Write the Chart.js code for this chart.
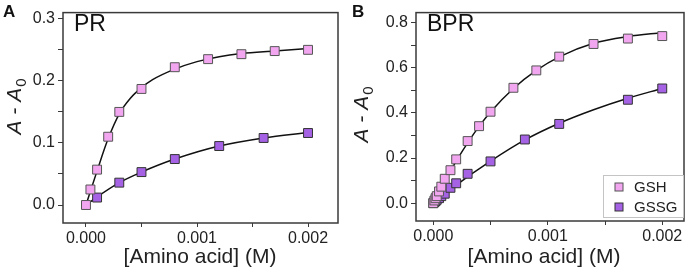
<!DOCTYPE html>
<html>
<head>
<meta charset="utf-8">
<script src="https://cdn.jsdelivr.net/npm/chart.js@4"></script>
<style>
  html, body { margin: 0; padding: 0; background: #fff; }
  #wrap { position: relative; width: 692px; height: 273px; }
  canvas { position: absolute; top: 0; }
  #cA { left: 0; }
  #cB { left: 346px; }
</style>
</head>
<body>
<div id="wrap">
  <canvas id="cA" width="346" height="273"></canvas>
  <canvas id="cB" width="346" height="273"></canvas>
</div>
<script>
// ---- data ----
// Panel A (PR)
const xA_gsh  = [0, 0.00004, 0.0001, 0.0002, 0.0003, 0.0005, 0.0008, 0.0011, 0.0014, 0.0017, 0.002];
const yA_gsh  = [0, 0.025, 0.057, 0.110, 0.150, 0.187, 0.222, 0.235, 0.243, 0.248, 0.250];
const xA_gssg = [0.0001, 0.0003, 0.0005, 0.0008, 0.0012, 0.0016, 0.002];
const yA_gssg = [0.012, 0.036, 0.053, 0.074, 0.095, 0.108, 0.116];
// fitted curves
const xA_fit1 = [0, 0.0001, 0.0002, 0.0003, 0.0004, 0.0005, 0.0006, 0.0008, 0.001, 0.0012, 0.0014, 0.0017, 0.002];
const yA_fit1 = [0, 0.055, 0.107, 0.147, 0.172, 0.189, 0.202, 0.219, 0.231, 0.239, 0.244, 0.248, 0.252];
const xA_fit2 = [0, 0.0001, 0.0003, 0.0005, 0.0008, 0.0012, 0.0016, 0.002];
const yA_fit2 = [0, 0.013, 0.036, 0.053, 0.074, 0.095, 0.108, 0.117];

// Panel B (BPR)
const xB_gsh  = [0, 0.00001, 0.00002, 0.00003, 0.00005, 0.00007, 0.0001, 0.00015, 0.0002, 0.0003, 0.0004, 0.0005, 0.0007, 0.0009, 0.0011, 0.0014, 0.0017, 0.002];
const yB_gsh  = [0, 0.012, 0.022, 0.031, 0.052, 0.073, 0.108, 0.146, 0.194, 0.275, 0.341, 0.405, 0.511, 0.588, 0.649, 0.705, 0.729, 0.740];
const xB_gssg = [0, 0.00001, 0.00002, 0.00003, 0.00005, 0.00007, 0.0001, 0.00015, 0.0002, 0.0003, 0.0005, 0.0008, 0.0011, 0.0017, 0.002];
const yB_gssg = [0, 0.005, 0.009, 0.015, 0.022, 0.031, 0.042, 0.068, 0.088, 0.130, 0.185, 0.282, 0.351, 0.458, 0.508];
const xB_fit1 = [0, 0.0001, 0.0002, 0.0003, 0.0004, 0.0005, 0.0007, 0.0009, 0.0011, 0.0014, 0.0017, 0.002];
const yB_fit1 = [0, 0.097, 0.186, 0.267, 0.340, 0.404, 0.508, 0.588, 0.648, 0.708, 0.738, 0.755];
const xB_fit2 = [0, 0.0002, 0.0005, 0.0008, 0.0011, 0.0014, 0.0017, 0.002];
const yB_fit2 = [0, 0.080, 0.186, 0.280, 0.354, 0.414, 0.465, 0.508];

// ticks
const xTicks = [0, 0.0005, 0.001, 0.0015, 0.002];
const xLabels = [0, 0.001, 0.002];
const yTicksA = [0, 0.05, 0.1, 0.15, 0.2, 0.25, 0.3];
const yLabelsA = [0, 0.1, 0.2, 0.3];
const yTicksB = [0, 0.1, 0.2, 0.3, 0.4, 0.5, 0.6, 0.7, 0.8];
const yLabelsB = [0, 0.2, 0.4, 0.6, 0.8];

const seriesNames = ['GSH', 'GSSG'];

const PINK = '#f2a6f0';
const PURPLE = '#a562e4';
const FONT = "'Liberation Sans', Arial, sans-serif";

const pts = (xs, ys) => xs.map((x,i)=>({x, y: ys[i]}));
const has = (arr, v) => arr.some(a => Math.abs(a - v) < 1e-9);

function fitSet(xs, ys){
  return { data: pts(xs, ys), showLine: true, pointRadius: 0, borderColor: '#111',
           borderWidth: 1.5, cubicInterpolationMode: 'monotone', order: 2 };
}
function markSet(label, xs, ys, fill, edge){
  return { label, data: pts(xs, ys), pointStyle: 'rect', pointRadius: 6.3,
           backgroundColor: fill, borderColor: edge, borderWidth: 1, order: 1 };
}

// frame, panel letter, inset title, axis titles, legend
const decor = {
  id: 'decor',
  afterDatasetsDraw(chart, args, o){
    const {ctx, chartArea: a} = chart;
    ctx.save();
    ctx.strokeStyle = '#3a3a3a';
    ctx.lineWidth = 1.5;
    ctx.strokeRect(a.left, a.top, a.right - a.left, a.bottom - a.top);

    ctx.fillStyle = '#111';
    ctx.font = `bold 17px ${FONT}`;
    ctx.textBaseline = 'alphabetic';
    ctx.textAlign = 'left';
    ctx.fillText(o.letter, o.letterX, 17);

    ctx.font = `23px ${FONT}`;
    ctx.fillText(o.name, a.left + 11, 31);

    // x title
    ctx.font = `21px ${FONT}`;
    ctx.textAlign = 'center';
    ctx.fillStyle = '#222';
    ctx.fillText('[Amino acid] (M)', o.xTitleX, 263);

    // y title, rotated, with subscript
    ctx.translate(o.yTitleX, o.yTitleY);
    ctx.rotate(-Math.PI/2);
    ctx.font = `italic 21px ${FONT}`;
    const main = 'A - A';
    const w1 = ctx.measureText(main).width;
    ctx.font = `15px ${FONT}`;
    const w2 = ctx.measureText('0').width;
    const start = -(w1 + w2) / 2;
    ctx.textAlign = 'left';
    ctx.font = `italic 21px ${FONT}`;
    ctx.fillText(main, start, 0);
    ctx.font = `15px ${FONT}`;
    ctx.fillText('0', start + w1 + 1, 5);
    ctx.restore();

    if (o.legend){
      ctx.save();
      const lx = 257, ly = 175, lw = 80, lh = 42;
      ctx.fillStyle = '#fff';
      ctx.fillRect(lx, ly, lw, lh);
      ctx.strokeStyle = '#c4c4c4';
      ctx.lineWidth = 1;
      ctx.strokeRect(lx + 0.5, ly + 0.5, lw, lh);
      const fills = [PINK, PURPLE];
      const edges = ['#555', '#333'];
      ctx.font = `15px ${FONT}`;
      ctx.textBaseline = 'middle';
      ctx.textAlign = 'left';
      seriesNames.forEach((n, i) => {
        const cy = 187 + i * 20;
        ctx.fillStyle = fills[i];
        ctx.fillRect(269, cy - 4, 8, 8);
        ctx.strokeStyle = edges[i];
        ctx.strokeRect(269, cy - 4, 8, 8);
        ctx.fillStyle = '#222';
        ctx.fillText(n, 288, cy + 1);
      });
      ctx.restore();
    }
  }
};

function makeChart(id, sets, xr, yr, yTicks, yLabels, yDigits, yWidth, xHeight, deco){
  return new Chart(document.getElementById(id), {
    type: 'scatter',
    data: { datasets: sets },
    options: {
      responsive: false,
      animation: false,
      devicePixelRatio: 1,
      layout: { padding: { left: 0, right: 8, top: 3, bottom: 0 } },
      plugins: { legend: { display: false }, tooltip: { enabled: false }, decor: deco },
      scales: {
        x: {
          type: 'linear', min: xr[0], max: xr[1],
          afterBuildTicks: s => { s.ticks = xTicks.map(v => ({value: v})); },
          afterFit: s => { s.height = xHeight; },
          ticks: { font: { family: FONT, size: 16 }, color: '#222', padding: 2, maxRotation: 0,
                   autoSkip: false, callback: v => has(xLabels, v) ? v.toFixed(3) : '' },
          grid: { drawOnChartArea: false, drawTicks: true, tickLength: 4, color: '#3a3a3a', lineWidth: 1 },
          border: { display: false }
        },
        y: {
          type: 'linear', min: yr[0], max: yr[1],
          afterBuildTicks: s => { s.ticks = yTicks.map(v => ({value: v})); },
          afterFit: s => { s.width = yWidth; },
          ticks: { font: { family: FONT, size: 16 }, color: '#222', padding: 3,
                   autoSkip: false, callback: v => has(yLabels, v) ? v.toFixed(yDigits) : '' },
          grid: { drawOnChartArea: false, drawTicks: true, tickLength: 5, color: '#3a3a3a', lineWidth: 1 },
          border: { display: false }
        }
      }
    },
    plugins: [decor]
  });
}

makeChart('cA', [
    fitSet(xA_fit1, yA_fit1),
    fitSet(xA_fit2, yA_fit2),
    markSet(seriesNames[0], xA_gsh, yA_gsh, PINK, '#555'),
    markSet(seriesNames[1], xA_gssg, yA_gssg, PURPLE, '#333')
  ],
  [-0.000207, 0.00227], [-0.029, 0.31], yTicksA, yLabelsA, 1, 63, 50,
  { letter: 'A', letterX: 3, name: 'PR', xTitleX: 200, yTitleX: 21, yTitleY: 107, legend: false });

makeChart('cB', [
    fitSet(xB_fit1, yB_fit1),
    fitSet(xB_fit2, yB_fit2),
    markSet(seriesNames[0], xB_gsh, yB_gsh, PINK, '#555'),
    markSet(seriesNames[1], xB_gssg, yB_gssg, PURPLE, '#333')
  ],
  [-0.000151, 0.00219], [-0.079, 0.844], yTicksB, yLabelsB, 1, 70, 52,
  { letter: 'B', letterX: 6, name: 'BPR', xTitleX: 198, yTitleX: 22, yTitleY: 115, legend: true });
</script>
</body>
</html>
